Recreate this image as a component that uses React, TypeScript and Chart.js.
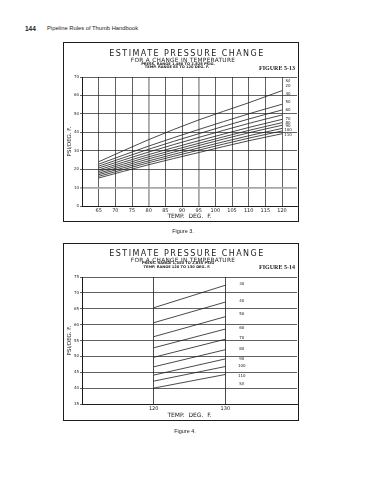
import React, { useEffect, useRef } from 'react';
import { Chart, registerables } from 'chart.js';

Chart.register(...registerables);

// ---------- Figure 3 (5-13) data ----------
const fig3Temps = [65, 80, 95, 110, 120];
const fig3XTicks = [65, 70, 75, 80, 85, 90, 95, 100, 105, 110, 115, 120];
const fig3YTicks = [0, 10, 20, 30, 40, 50, 60, 70];
const f3Line1 = [24.0, 36.0, 46.7, 56.0, 62.6];
const f3Line2 = [22.7, 32.5, 41.5, 50.0, 55.2];
const f3Line3 = [21.6, 30.8, 39.2, 47.2, 52.1];
const f3Line4 = [20.6, 29.3, 37.2, 44.8, 49.4];
const f3Line5 = [19.6, 27.9, 35.4, 42.6, 47.0];
const f3Line6 = [18.7, 26.7, 34.0, 41.0, 45.2];
const f3Line7 = [17.8, 25.6, 32.8, 39.7, 43.8];
const f3Line8 = [17.0, 24.5, 31.5, 38.1, 42.1];
const f3Line9 = [16.1, 23.5, 30.3, 36.8, 40.7];
const f3Line10 = [15.2, 22.4, 29.0, 35.4, 39.2];
const fig3Labels = ['S/I', '20', '40', '50', '60', '70', '80', '90', '100', '110'];
const fig3LabelY = [67.8, 65.1, 60.8, 56.3, 52.1, 47.0, 45.2, 43.6, 41.1, 38.4];

// ---------- Figure 4 (5-14) data ----------
const fig4Temps = [120, 130];
const fig4XTicks = [120, 130];
const fig4YTicks = [35, 40, 45, 50, 55, 60, 65, 70, 75];
const f4Line1 = [65.3, 72.4];
const f4Line2 = [60.6, 67.1];
const f4Line3 = [56.2, 62.5];
const f4Line4 = [52.7, 58.6];
const f4Line5 = [49.7, 55.4];
const f4Line6 = [46.7, 52.1];
const f4Line7 = [44.1, 49.2];
const f4Line8 = [42.2, 46.8];
const f4Line9 = [40.0, 44.3];
const fig4Labels = ['30', '40', '50', '60', '70', '80', '90', '100', '110', 'S/I'];
const fig4LabelY = [72.7, 67.3, 63.5, 58.8, 55.8, 52.3, 49.2, 47.0, 43.9, 41.4];

const INK = '#1c1c1c';
const LETTER = '"DejaVu Sans", sans-serif';

const sideLabels = {
  id: 'sideLabels',
  afterDatasetsDraw(chart: any, _args: any, opts: any) {
    const { ctx } = chart;
    const xs = chart.scales.x;
    const ys = chart.scales.y;
    ctx.save();
    ctx.font = `${opts.size}px "DejaVu Sans"`;
    ctx.fillStyle = INK;
    ctx.textAlign = 'center';
    ctx.textBaseline = 'middle';
    (opts.labels as string[]).forEach((t, i) => {
      ctx.fillText(t, xs.getPixelForValue(opts.xValue), ys.getPixelForValue(opts.values[i]));
    });
    ctx.restore();
  },
};

type P = {
  temps: number[];
  series: number[][];
  xMin: number;
  xMax: number;
  yMin: number;
  yMax: number;
  xTicks: number[];
  yTicks: number[];
  padTop: number;
  xH: number;
  labels: string[];
  labelY: number[];
  labelX: number;
  xGridColor: (v: number) => string;
  xGridWidth: (v: number) => number;
  yGridColor: (v: number) => string;
  yGridWidth: (v: number) => number;
};

function makeConfig(p: P): any {
  return {
    type: 'line',
    data: {
      datasets: p.series.map((s) => ({
        data: p.temps.map((t, i) => ({ x: t, y: s[i] })),
        borderColor: INK,
        borderWidth: 0.8,
        pointRadius: 0,
        cubicInterpolationMode: 'monotone',
        fill: false,
      })),
    },
    options: {
      responsive: false,
      animation: false,
      devicePixelRatio: 1,
      layout: { padding: { top: p.padTop, right: 1, bottom: 2, left: 0 } },
      plugins: {
        legend: { display: false },
        tooltip: { enabled: false },
        sideLabels: { labels: p.labels, values: p.labelY, xValue: p.labelX, size: 4 },
      },
      scales: {
        x: {
          type: 'linear',
          min: p.xMin,
          max: p.xMax,
          afterBuildTicks: (s: any) => {
            s.ticks = p.xTicks.map((v) => ({ value: v }));
          },
          afterFit: (s: any) => {
            s.height = p.xH;
          },
          ticks: {
            font: { family: 'DejaVu Sans', size: 5 },
            color: INK,
            padding: 2,
            maxRotation: 0,
            autoSkip: false,
            callback: (v: any) => String(v),
          },
          grid: {
            drawTicks: false,
            color: (c: any) => p.xGridColor(c.tick ? c.tick.value : 0),
            lineWidth: (c: any) => p.xGridWidth(c.tick ? c.tick.value : 0),
          },
          border: { color: INK, width: 1 },
          title: {
            display: true,
            text: 'TEMP.  DEG.  F.',
            color: INK,
            font: { family: 'DejaVu Sans', size: 6, lineHeight: 1 },
            padding: 0,
          },
        },
        y: {
          min: p.yMin,
          max: p.yMax,
          afterBuildTicks: (s: any) => {
            s.ticks = p.yTicks.map((v) => ({ value: v }));
          },
          afterFit: (s: any) => {
            s.width = 19;
          },
          ticks: {
            font: { family: 'DejaVu Sans', size: 4 },
            color: INK,
            padding: 1,
            autoSkip: false,
            callback: (v: any) => String(v),
          },
          grid: {
            tickLength: 2,
            color: (c: any) => p.yGridColor(c.tick ? c.tick.value : 0),
            lineWidth: (c: any) => p.yGridWidth(c.tick ? c.tick.value : 0),
          },
          border: { color: INK, width: 1 },
          title: {
            display: true,
            text: 'PSI/DEG. F.',
            color: INK,
            font: { family: 'DejaVu Sans', size: 5.5, lineHeight: 1 },
            padding: { top: 3.5, bottom: 0 },
          },
        },
      },
    },
    plugins: [sideLabels],
  };
}

function ChartCanvas({ config, left, top, width, height }: any) {
  const ref = useRef<HTMLCanvasElement>(null);
  useEffect(() => {
    if (!ref.current) return;
    const ch = new Chart(ref.current, config);
    return () => ch.destroy();
  }, []);
  return (
    <canvas
      ref={ref}
      width={width}
      height={height}
      style={{ position: 'absolute', left, top, width, height }}
    />
  );
}

function T({ x, y, size, children, family = LETTER, weight = 400, ls = 0, align = 'center' }: any) {
  return (
    <div
      style={{
        position: 'absolute',
        left: x,
        top: y,
        transform: align === 'center' ? 'translate(-50%, -50%)' : 'translate(0, -50%)',
        fontSize: size,
        fontFamily: family,
        fontWeight: weight,
        letterSpacing: ls,
        whiteSpace: 'nowrap',
        lineHeight: 1,
        color: INK,
      }}
    >
      {children}
    </div>
  );
}

function Box({ left, top, width, height }: any) {
  return (
    <div
      style={{
        position: 'absolute',
        left,
        top,
        width,
        height,
        border: `1px solid ${INK}`,
        boxSizing: 'border-box',
        pointerEvents: 'none',
      }}
    />
  );
}

const fig3Config = makeConfig({
  temps: fig3Temps,
  series: [f3Line1, f3Line2, f3Line3, f3Line4, f3Line5, f3Line6, f3Line7, f3Line8, f3Line9, f3Line10],
  xMin: 60,
  xMax: 124.5,
  yMin: 0,
  yMax: 70,
  xTicks: fig3XTicks,
  yTicks: fig3YTicks,
  padTop: 35,
  xH: 13,
  labels: fig3Labels,
  labelY: fig3LabelY,
  labelX: 121.8,
  xGridColor: (v) => (v === 80 || v === 95 ? '#a8a8a8' : INK),
  xGridWidth: (v) => (v === 80 || v === 95 ? 1.8 : 0.7),
  yGridColor: (v) => (v === 10 ? '#a8a8a8' : INK),
  yGridWidth: (v) => (v === 10 ? 1.8 : 0.7),
});

const fig4Config = makeConfig({
  temps: fig4Temps,
  series: [f4Line1, f4Line2, f4Line3, f4Line4, f4Line5, f4Line6, f4Line7, f4Line8, f4Line9],
  xMin: 110,
  xMax: 140,
  yMin: 35,
  yMax: 75,
  xTicks: fig4XTicks,
  yTicks: fig4YTicks,
  padTop: 34,
  xH: 14,
  labels: fig4Labels,
  labelY: fig4LabelY,
  labelX: 132.3,
  xGridColor: () => INK,
  xGridWidth: () => 0.8,
  yGridColor: () => INK,
  yGridWidth: () => 0.7,
});

export default function App() {
  return (
    <div
      style={{
        position: 'absolute',
        left: 0,
        top: 0,
        width: 370,
        height: 480,
        background: '#fff',
        overflow: 'hidden',
      }}
    >
      {/* running header */}
      <T x={25} y={29} size={6.5} family='"Liberation Sans", Arial, sans-serif' weight={700} align="left">
        144
      </T>
      <T x={47} y={29} size={5.8} family='"Liberation Sans", Arial, sans-serif' align="left">
        Pipeline Rules of Thumb Handbook
      </T>

      {/* Figure 3 */}
      <ChartCanvas config={fig3Config} left={63} top={42} width={235} height={179} />
      <Box left={63} top={42} width={236} height={180} />
      <T x={187} y={54} size={8} ls={1.45}>ESTIMATE PRESSURE CHANGE</T>
      <T x={183} y={61} size={5.8} ls={0.3}>FOR A CHANGE IN TEMPERATURE</T>
      <T x={178} y={64.6} size={3.6} weight={700}>PRESS. RANGE 1,480 TO 2,828 PSIG.</T>
      <T x={177} y={68.4} size={3.6} weight={700}>TEMP. RANGE 65 TO 120 DEG. F.</T>
      <T x={277} y={67.5} size={6} family='"Liberation Serif", serif' weight={700}>FIGURE 5-13</T>
      <T x={183} y={232} size={5.5} family='"Liberation Sans", Arial, sans-serif'>Figure 3.</T>

      {/* Figure 4 */}
      <ChartCanvas config={fig4Config} left={63} top={243} width={235} height={177} />
      <Box left={63} top={243} width={236} height={178} />
      <T x={187} y={254} size={8} ls={1.45}>ESTIMATE PRESSURE CHANGE</T>
      <T x={183} y={260.5} size={5.8} ls={0.3}>FOR A CHANGE IN TEMPERATURE</T>
      <T x={178} y={264.3} size={3.6} weight={700}>PRESS. RANGE 1,450 TO 2,835 PSIG</T>
      <T x={177} y={268} size={3.6} weight={700}>TEMP. RANGE 120 TO 130 DEG. F.</T>
      <T x={277} y={267} size={6} family='"Liberation Serif", serif' weight={700}>FIGURE 5-14</T>
      <T x={185} y={432} size={5.5} family='"Liberation Sans", Arial, sans-serif'>Figure 4.</T>
    </div>
  );
}
